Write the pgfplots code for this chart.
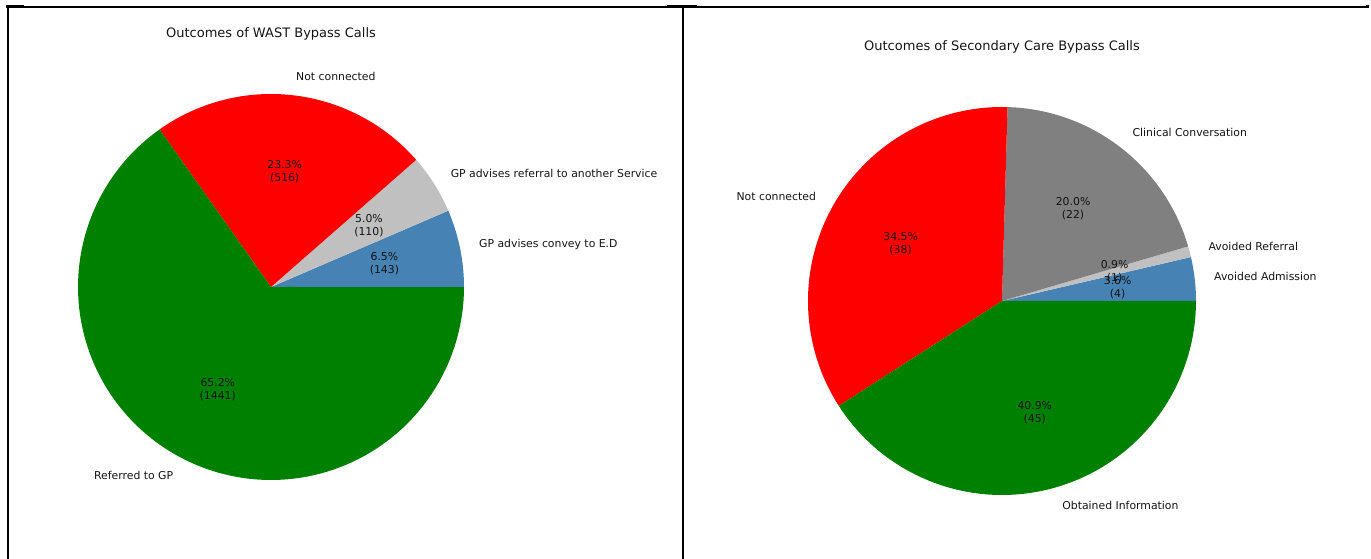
\documentclass[border=0pt]{standalone}
\usepackage{fontspec}
\setmainfont{DejaVu Sans}
\usepackage{pgfplots}
\pgfplotsset{compat=1.18}
\definecolor{steelblue}{HTML}{4682B4}
\definecolor{msilver}{HTML}{C0C0C0}
\definecolor{mgray}{HTML}{808080}
\definecolor{mred}{HTML}{FF0000}
\definecolor{mgreen}{HTML}{008000}
% data: left chart (WAST) 143, 110, 516, 1441 ; right chart (Secondary Care) 4, 1, 22, 38, 45
\pgfmathsetmacro{\Ltot}{143+110+516+1441}
\pgfmathsetmacro{\LA}{360*(143/\Ltot)}
\pgfmathsetmacro{\LB}{360*((143+110)/\Ltot)}
\pgfmathsetmacro{\LC}{360*((143+110+516)/\Ltot)}
\pgfmathsetmacro{\Rtot}{4+1+22+38+45}
\pgfmathsetmacro{\RA}{360*(4/\Rtot)}
\pgfmathsetmacro{\RB}{360*((4+1)/\Rtot)}
\pgfmathsetmacro{\RC}{360*((4+1+22)/\Rtot)}
\pgfmathsetmacro{\RD}{360*((4+1+22+38)/\Rtot)}
\newcommand{\slice}[3]{\addplot[draw=none, fill=#3, domain=#1:#2, samples=120, variable=\t] ({cos(\t)},{sin(\t)}) -- (axis cs:0,0) -- cycle;}
\pgfplotsset{pie/.style={hide axis, scale only axis, clip=false, anchor=south west}}
\tikzset{lbl/.style={font=\fontsize{10.86}{13}\selectfont, inner sep=0pt, text=black!92},
  pct/.style={font=\fontsize{10.86}{13}\selectfont, inner sep=0pt, align=center, text=black!92}}
\begin{document}
\begin{tikzpicture}
\path[use as bounding box] (0,0) rectangle (1371pt,559pt);
\begin{axis}[pie, at={(8pt,0pt)}, width=675pt, height=552pt,
  xmin=-1.3627, xmax=2.1347, ymin=-1.4093, ymax=1.4508]
\slice{0}{\LA}{steelblue}
\slice{\LA}{\LB}{msilver}
\slice{\LB}{\LC}{mred}
\slice{\LC}{360}{mgreen}
\node[lbl, anchor=west] at (axis cs:1.0774,0.2221) {GP advises convey to E.D};
\node[lbl, anchor=west] at (axis cs:0.9304,0.5869) {GP advises referral to another Service};
\node[lbl, anchor=west] at (axis cs:0.1295,1.0924) {Not connected};
\node[lbl, anchor=east] at (axis cs:-0.5058,-0.9768) {Referred to GP};
\node[pct] at (axis cs:0.5877,0.1211) {6.5\%\\(143)};
\node[pct] at (axis cs:0.5075,0.3201) {5.0\%\\(110)};
\node[pct] at (axis cs:0.0706,0.5959) {23.3\%\\(516)};
\node[pct] at (axis cs:-0.2759,-0.5328) {65.2\%\\(1441)};
\node[font=\fontsize{13}{15}\selectfont, text=black!92] at (axis cs:0,1.311) {Outcomes of WAST Bypass Calls};
\end{axis}
\begin{axis}[pie, at={(683pt,0pt)}, width=685pt, height=552pt,
  xmin=-1.6443, xmax=1.8866, ymin=-1.3299, ymax=1.5155]
\slice{0}{\RA}{steelblue}
\slice{\RA}{\RB}{msilver}
\slice{\RB}{\RC}{mgray}
\slice{\RC}{\RD}{mred}
\slice{\RD}{360}{mgreen}
\node[lbl, anchor=west] at (axis cs:1.0928,0.1254) {Avoided Admission};
\node[lbl, anchor=west] at (axis cs:1.0639,0.2796) {Avoided Referral};
\node[lbl, anchor=west] at (axis cs:0.6718,0.8711) {Clinical Conversation};
\node[lbl, anchor=east] at (axis cs:-0.9579,0.5410) {Not connected};
\node[lbl, anchor=west] at (axis cs:0.3099,-1.0555) {Obtained Information};
\node[pct] at (axis cs:0.5961,0.0684) {3.6\%\\(4)};
\node[pct] at (axis cs:0.5803,0.1525) {0.9\%\\(1)};
\node[pct] at (axis cs:0.3664,0.4751) {20.0\%\\(22)};
\node[pct] at (axis cs:-0.5225,0.2951) {34.5\%\\(38)};
\node[pct] at (axis cs:0.1690,-0.5757) {40.9\%\\(45)};
\node[font=\fontsize{13}{15}\selectfont, text=black!92] at (axis cs:0,1.309) {Outcomes of Secondary Care Bypass Calls};
\end{axis}
% page frame lines of the source document
\draw[line width=1.2pt] (6pt,552pt) -- (1369pt,552pt);
\draw[line width=2pt] (6pt,552.5pt) -- (24pt,552.5pt);
\draw[line width=2pt] (667pt,552.5pt) -- (697pt,552.5pt);
\draw[line width=2pt] (1366pt,552.5pt) -- (1369pt,552.5pt);
\draw[line width=2pt] (7.5pt,553pt) -- (7.5pt,0pt);
\draw[line width=2pt] (683pt,553pt) -- (683pt,0pt);
\end{tikzpicture}
\end{document}
